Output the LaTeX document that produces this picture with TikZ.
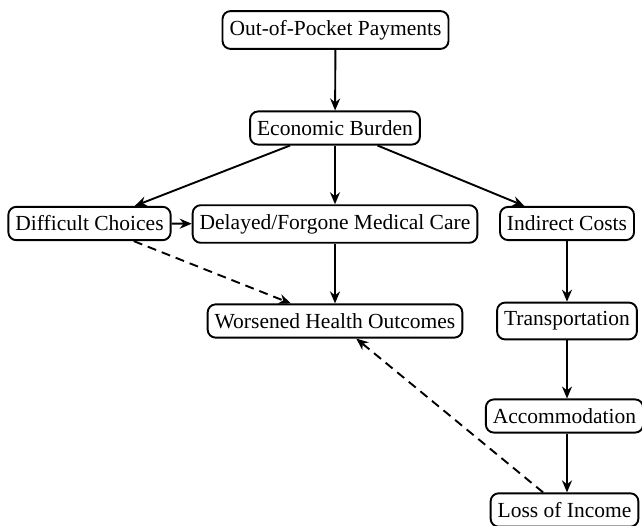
\documentclass[tikz,border=0pt]{standalone}
\usepackage{fontspec}
\setmainfont{Liberation Serif}
\usetikzlibrary{arrows.meta}
\begin{document}
\begin{tikzpicture}[x=1pt,y=-1pt,
  box/.style={draw,line width=1.9pt,rounded corners=8pt,inner xsep=7pt,inner ysep=9pt,font=\fontsize{21.5}{24}\selectfont},
  conn/.style={line width=1.9pt,-{Stealth[length=12pt,width=10pt]}},
  dconn/.style={conn,dash pattern=on 9pt off 6pt}]
\useasboundingbox (0,0) rectangle (642,525);
\node[box] (oop) at (335.5,30) {Out-of-Pocket Payments};
\node[box] (eb) at (335,128) {Economic Burden};
\node[box] (dc) at (89.5,223.5) {Difficult Choices};
\node[box] (dm) at (335,224) {Delayed/Forgone Medical Care};
\node[box] (ic) at (567,223.5) {Indirect Costs};
\node[box] (wh) at (335,321) {Worsened Health Outcomes};
\node[box] (tr) at (567,321) {Transportation};
\node[box] (ac) at (564.5,416) {Accommodation};
\node[box] (li) at (564.5,510) {Loss of Income};
\draw[conn] (oop) -- (eb);
\draw[conn] (eb) -- (dc);
\draw[conn] (eb) -- (dm);
\draw[conn] (eb) -- (ic);
\draw[conn] (dc) -- (dm);
\draw[conn] (dm) -- (wh);
\draw[dconn] (dc) -- (wh);
\draw[conn] (ic) -- (tr);
\draw[conn] (tr.south) -- (tr.south |- ac.north);
\draw[conn] (tr.south |- ac.south) -- (tr.south |- li.north);
\draw[dconn] (li) -- (wh);
\end{tikzpicture}
\end{document}
